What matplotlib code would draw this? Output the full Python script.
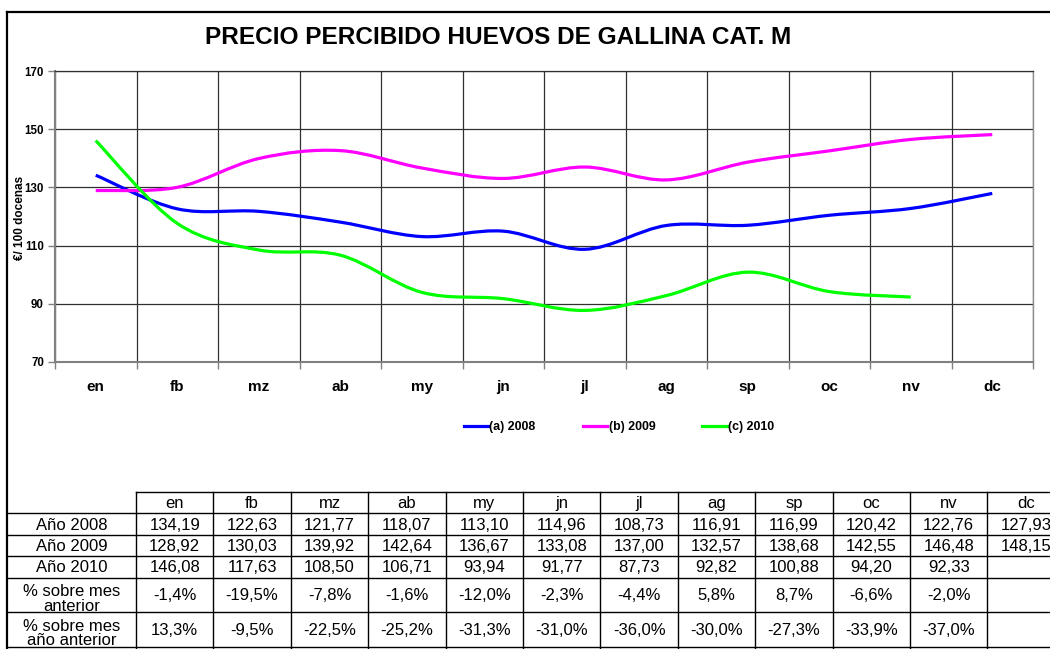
import numpy as np
import matplotlib
matplotlib.use("Agg")
import matplotlib.pyplot as plt
from matplotlib.path import Path
from matplotlib.patches import PathPatch
from matplotlib.lines import Line2D

plt.rcParams["font.family"] = ["Liberation Sans", "DejaVu Sans"]

# --- data ---
months = ["en", "fb", "mz", "ab", "my", "jn", "jl", "ag", "sp", "oc", "nv", "dc"]
y2008 = [134.19, 122.63, 121.77, 118.07, 113.10, 114.96, 108.73, 116.91, 116.99, 120.42, 122.76, 127.93]
y2009 = [128.92, 130.03, 139.92, 142.64, 136.67, 133.08, 137.00, 132.57, 138.68, 142.55, 146.48, 148.15]
y2010 = [146.08, 117.63, 108.50, 106.71, 93.94, 91.77, 87.73, 92.82, 100.88, 94.20, 92.33]
pct_prev_month = [-1.4, -19.5, -7.8, -1.6, -12.0, -2.3, -4.4, 5.8, 8.7, -6.6, -2.0]
pct_prev_year = [13.3, -9.5, -22.5, -25.2, -31.3, -31.0, -36.0, -30.0, -27.3, -33.9, -37.0]

series_labels = ["(a) 2008", "(b) 2009", "(c) 2010"]
series_colors = ["#0000FF", "#FF00FF", "#00FF00"]
row_labels = ["Año 2008", "Año 2009", "Año 2010", "% sobre mes\nanterior", "% sobre mes\naño anterior"]

W, H = 1050, 649
L, R, T, B = 55, 1033, 71, 362


def smooth_path(xs, ys):
    # Excel-like smoothed line: cubic Bezier through every point
    pts = np.column_stack([xs, ys]).astype(float)
    n = len(pts)
    verts = [pts[0]]
    codes = [Path.MOVETO]
    for i in range(n - 1):
        p0 = pts[max(i - 1, 0)]
        p1, p2 = pts[i], pts[i + 1]
        p3 = pts[min(i + 2, n - 1)]
        verts += [p1 + (p2 - p0) / 6, p2 - (p3 - p1) / 6, p2]
        codes += [Path.CURVE4] * 3
    return Path(verts, codes)


fig = plt.figure(figsize=(W / 100, H / 100), dpi=100)

# overlay in pixel coords for frame and table
ov = fig.add_axes([0, 0, 1, 1], zorder=0)
ov.set_xlim(0, W)
ov.set_ylim(H, 0)
ov.axis("off")

ax = fig.add_axes([L / W, 1 - B / H, (R - L) / W, (B - T) / H], zorder=1)
ax.set_xlim(-0.5, 11.5)
ax.set_ylim(70, 170)

for vals, lab, col in zip([y2008, y2009, y2010], series_labels, series_colors):
    xs = np.arange(len(vals))
    ax.add_patch(PathPatch(smooth_path(xs, vals), fill=False, edgecolor=col,
                           lw=2.3, capstyle="butt", zorder=3))

ax.set_yticks(range(70, 171, 20))
ax.set_yticklabels([str(v) for v in range(70, 171, 20)], fontsize=8.3, fontweight="bold")
ax.set_xticks(range(12))
ax.set_xticklabels(months, fontsize=11, fontweight="bold")
ax.set_xticks(np.arange(-0.5, 12, 1), minor=True)
ax.tick_params(axis="x", which="major", length=0, pad=13)
ax.tick_params(axis="x", which="minor", length=5, color="#808080", width=1)
ax.tick_params(axis="y", length=5, color="#808080", width=1, pad=3)
ax.xaxis.grid(True, which="minor", color="#303030", lw=0.9)
ax.yaxis.grid(True, which="major", color="#303030", lw=0.9)
ax.set_axisbelow(True)
for side in ["left", "bottom"]:
    ax.spines[side].set_color("#808080")
    ax.spines[side].set_linewidth(1.5)
ax.spines["top"].set_color("#303030")
ax.spines["top"].set_linewidth(0.9)
ax.spines["right"].set_color("#909090")
ax.spines["right"].set_linewidth(1.0)

fig.text(498 / W, 1 - 37 / H, "PRECIO PERCIBIDO HUEVOS DE GALLINA CAT. M",
         ha="center", va="center", fontsize=17.6, fontweight="bold")
fig.text(20 / W, 1 - 218 / H, "€/ 100 docenas", rotation=90, ha="center",
         va="center", fontsize=8.5, fontweight="bold")

handles = [Line2D([], [], color=c, lw=2.3) for c in series_colors]
fig.legend(handles, series_labels, loc="center", bbox_to_anchor=(619 / W, 1 - 427 / H),
           ncol=3, frameon=False, prop=dict(weight="bold", size=8.9),
           handlelength=2.0, handletextpad=0.1, columnspacing=3.8)

# outer frame
ov.plot([7, W + 5], [12, 12], color="black", lw=1.6, clip_on=False)
ov.plot([7, 7], [12, H + 5], color="black", lw=1.6, clip_on=False)

# table
col_x0, col_w = 136, 77.4
row_y = [492, 513, 535, 556, 578, 612, 647]
ov.plot([col_x0, W + 5], [row_y[0]] * 2, color="black", lw=1.0, clip_on=False)
for y in row_y[1:]:
    ov.plot([7, W + 5], [y, y], color="black", lw=1.0, clip_on=False)
for k in range(len(months) + 1):
    x = col_x0 + k * col_w
    ov.plot([x, x], [row_y[0], H + 5], color="black", lw=1.0, clip_on=False)

tfs = 12
for k, m in enumerate(months):
    cx = col_x0 + (k + 0.5) * col_w
    ov.text(cx, (row_y[0] + row_y[1]) / 2 + 1, m, ha="center", va="center", fontsize=tfs)

table_rows = [
    [f"{v:.2f}".replace(".", ",") for v in y2008],
    [f"{v:.2f}".replace(".", ",") for v in y2009],
    [f"{v:.2f}".replace(".", ",") for v in y2010],
    [f"{v:.1f}%".replace(".", ",") for v in pct_prev_month],
    [f"{v:.1f}%".replace(".", ",") for v in pct_prev_year],
]
for r, (lab, cells) in enumerate(zip(row_labels, table_rows)):
    cy = (row_y[r + 1] + row_y[r + 2]) / 2 + 1
    off = 3 if "\n" in lab else 0
    ov.text(72, cy + off, lab, ha="center", va="center", fontsize=tfs, linespacing=0.92)
    for k, s in enumerate(cells):
        cx = col_x0 + (k + 0.5) * col_w
        ov.text(cx, cy, s, ha="center", va="center", fontsize=tfs, clip_on=False)

fig.savefig("out.png", dpi=100)
